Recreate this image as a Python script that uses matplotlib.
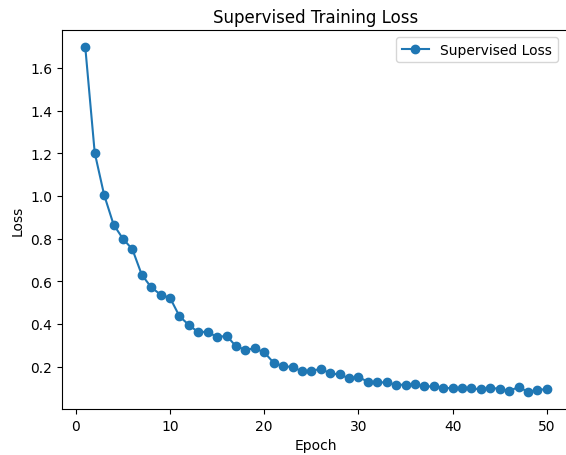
import matplotlib
matplotlib.use("Agg")
from matplotlib import pyplot as plt

epochs = list(range(1, 51))
supervised_loss = [
    1.697, 1.203, 1.005, 0.866, 0.799, 0.750, 0.630, 0.572, 0.537, 0.522,
    0.436, 0.395, 0.361, 0.364, 0.337, 0.345, 0.295, 0.279, 0.285, 0.267,
    0.218, 0.202, 0.198, 0.178, 0.179, 0.190, 0.168, 0.163, 0.145, 0.151,
    0.129, 0.126, 0.126, 0.115, 0.115, 0.118, 0.107, 0.107, 0.101, 0.098,
    0.098, 0.098, 0.093, 0.101, 0.095, 0.086, 0.104, 0.082, 0.090, 0.095,
]

fig = plt.figure(figsize=(5.66, 4.56), dpi=100)
# the reference is cropped on the right, so the axes runs a bit past the edge
ax = fig.add_axes([0.1099, 0.1009, 0.897, 0.8311])
ax.plot(epochs, supervised_loss, marker='o', label='Supervised Loss')
ax.set_title('Supervised Training Loss')
ax.set_xlabel('Epoch')
ax.set_ylabel('Loss')
ax.legend(loc='upper right', bbox_to_anchor=(0.99, 1.0))
# right border is cut off in the reference
ax.spines['right'].set_visible(False)

fig.savefig('out.png', dpi=100)
